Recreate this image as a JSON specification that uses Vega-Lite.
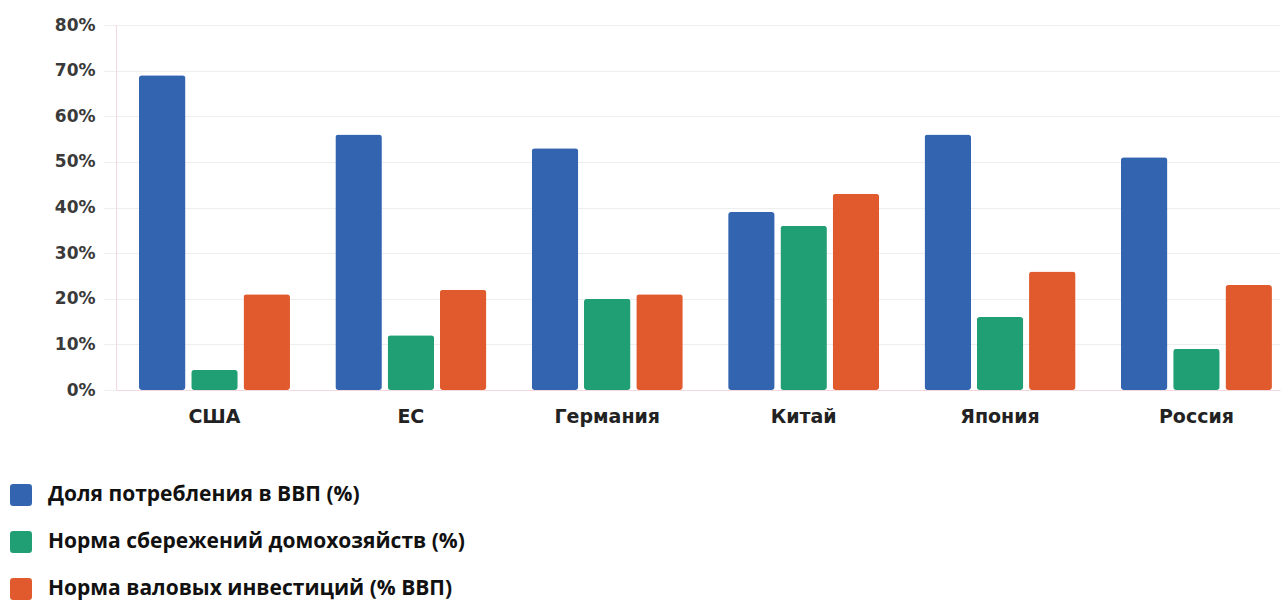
{
  "$schema": "https://vega.github.io/schema/vega-lite/v6.json",
  "width": 1164,
  "height": 365,
  "autosize": {"type": "none"},
  "padding": {"left": 116, "top": 25, "right": 5, "bottom": 211},
  "background": "white",
  "data": {
    "values": [
      {"country": "США", "series": "Доля потребления в ВВП (%)", "value": 69},
      {"country": "США", "series": "Норма сбережений домохозяйств (%)", "value": 4.4},
      {"country": "США", "series": "Норма валовых инвестиций (% ВВП)", "value": 21},
      {"country": "ЕС", "series": "Доля потребления в ВВП (%)", "value": 56},
      {"country": "ЕС", "series": "Норма сбережений домохозяйств (%)", "value": 12},
      {"country": "ЕС", "series": "Норма валовых инвестиций (% ВВП)", "value": 22},
      {"country": "Германия", "series": "Доля потребления в ВВП (%)", "value": 53},
      {"country": "Германия", "series": "Норма сбережений домохозяйств (%)", "value": 20},
      {"country": "Германия", "series": "Норма валовых инвестиций (% ВВП)", "value": 21},
      {"country": "Китай", "series": "Доля потребления в ВВП (%)", "value": 39},
      {"country": "Китай", "series": "Норма сбережений домохозяйств (%)", "value": 36},
      {"country": "Китай", "series": "Норма валовых инвестиций (% ВВП)", "value": 43},
      {"country": "Япония", "series": "Доля потребления в ВВП (%)", "value": 56},
      {"country": "Япония", "series": "Норма сбережений домохозяйств (%)", "value": 16},
      {"country": "Япония", "series": "Норма валовых инвестиций (% ВВП)", "value": 26},
      {"country": "Россия", "series": "Доля потребления в ВВП (%)", "value": 51},
      {"country": "Россия", "series": "Норма сбережений домохозяйств (%)", "value": 9},
      {"country": "Россия", "series": "Норма валовых инвестиций (% ВВП)", "value": 23}
    ]
  },
  "mark": {"type": "bar", "cornerRadius": 3},
  "encoding": {
    "x": {
      "field": "country",
      "type": "nominal",
      "sort": ["США", "ЕС", "Германия", "Китай", "Япония", "Россия"],
      "scale": {"paddingInner": 0.231, "paddingOuter": 0.079, "align": 0.74},
      "axis": {
        "title": null,
        "labelAngle": 0,
        "labelFont": "DejaVu Sans",
        "labelFontWeight": "bold",
        "labelFontSize": 19,
        "labelColor": "#222222",
        "labelPadding": 17,
        "ticks": false,
        "domainColor": "#f3d9dd",
        "domainWidth": 1
      }
    },
    "xOffset": {
      "field": "series",
      "type": "nominal",
      "sort": ["Доля потребления в ВВП (%)", "Норма сбережений домохозяйств (%)", "Норма валовых инвестиций (% ВВП)"],
      "scale": {"paddingInner": 0.11, "paddingOuter": 0}
    },
    "y": {
      "field": "value",
      "type": "quantitative",
      "scale": {"domain": [0, 80], "nice": false},
      "axis": {
        "title": null,
        "values": [0, 10, 20, 30, 40, 50, 60, 70, 80],
        "labelExpr": "datum.value + '%'",
        "labelFont": "DejaVu Sans",
        "labelFontWeight": "bold",
        "labelFontSize": 17,
        "labelColor": "#3a3a3a",
        "labelPadding": 8,
        "tickSize": 13,
        "tickColor": "#eeeeee",
        "gridColor": "#eeeeee",
        "domainColor": "#f3d9dd"
      }
    },
    "color": {
      "field": "series",
      "type": "nominal",
      "sort": ["Доля потребления в ВВП (%)", "Норма сбережений домохозяйств (%)", "Норма валовых инвестиций (% ВВП)"],
      "scale": {
        "domain": ["Доля потребления в ВВП (%)", "Норма сбережений домохозяйств (%)", "Норма валовых инвестиций (% ВВП)"],
        "range": ["#3264b0", "#1f9f73", "#e05a2e"]
      },
      "legend": {
        "title": null,
        "orient": "none",
        "legendX": -106,
        "legendY": 459,
        "direction": "vertical",
        "padding": 0,
        "symbolType": "M-0.7,-1L0.7,-1Q1,-1 1,-0.7L1,0.7Q1,1 0.7,1L-0.7,1Q-1,1 -1,0.7L-1,-0.7Q-1,-1 -0.7,-1Z",
        "symbolSize": 484,
        "symbolStrokeWidth": 0,
        "symbolOpacity": 1,
        "labelFont": "Open Sans",
        "labelFontWeight": "bold",
        "labelFontSize": 21,
        "labelColor": "#111111",
        "labelOffset": 16,
        "labelLimit": 600,
        "rowPadding": 25
      }
    }
  },
  "config": {"view": {"stroke": null}}
}
